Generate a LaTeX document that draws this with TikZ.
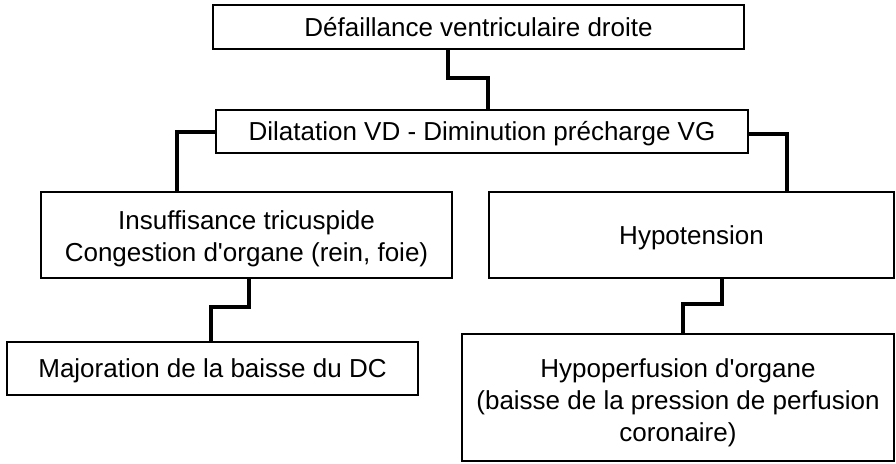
\documentclass[tikz,border=0pt]{standalone}
\usepackage{fontspec}
\setmainfont{Liberation Sans}[Ligatures=TeXOff]
\begin{document}
\begin{tikzpicture}[x=1pt, y=-1pt,
  box/.style={draw, line width=2.5pt, inner sep=0pt, align=center,
    text height=18pt, text depth=0pt, font=\fontsize{26}{32}\selectfont},
  link/.style={line width=3.3pt}]
\useasboundingbox (0,0) rectangle (896,463);
 \node[box, minimum width=531pt, minimum height=44pt] (defaillance) at (478.5,27) {Défaillance ventriculaire droite};
 \node[box, minimum width=532pt, minimum height=43pt] (dilatation) at (482,131.5) {Dilatation VD - Diminution précharge VG};
 \node[box, minimum width=411pt, minimum height=86pt, text height=52pt] (insuff) at (246.5,235) {Insuffisance tricuspide\\Congestion d'organe (rein, foie)};
 \node[box, minimum width=405pt, minimum height=86pt] (hypotension) at (691.5,235) {Hypotension};
 \node[box, minimum width=411pt, minimum height=53pt] (majoration) at (212.5,368.5) {Majoration de la baisse du DC};
 \node[box, minimum width=432pt, minimum height=127pt, text height=87pt] (hypoperf) at (678,397.5) {Hypoperfusion d'organe\\(baisse de la pression de perfusion\\coronaire)};
% liaisons
\draw[link] (defaillance.south -| 448,0) -- (448,78) -- (488,78) -- (dilatation.north -| 488,0);
\draw[link] (dilatation.west |- 0,132) -- (177,132) -- (insuff.north -| 177,0);
\draw[link] (dilatation.east |- 0,134) -- (787,134) -- (hypotension.north -| 787,0);
\draw[link] (insuff.south -| 249,0) -- (249,307) -- (211,307) -- (majoration.north -| 211,0);
\draw[link] (hypotension.south -| 722,0) -- (722,304) -- (683,304) -- (hypoperf.north -| 683,0);
\end{tikzpicture}
\end{document}
